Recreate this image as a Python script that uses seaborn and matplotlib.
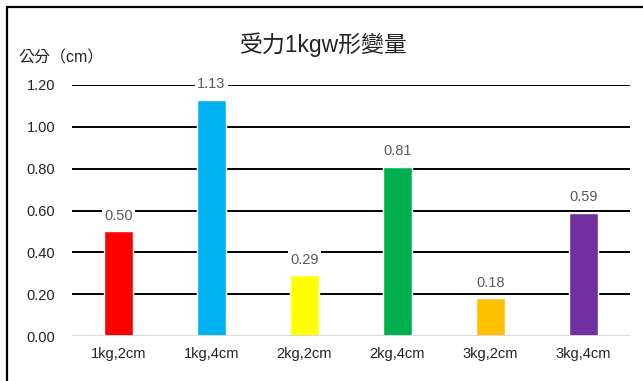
import matplotlib
matplotlib.use("Agg")
import matplotlib.pyplot as plt
import seaborn as sns
import pandas as pd
from matplotlib.patches import Rectangle

categories = ["1kg,2cm", "1kg,4cm", "2kg,2cm", "2kg,4cm", "3kg,2cm", "3kg,4cm"]
values = [0.50, 1.13, 0.29, 0.81, 0.18, 0.59]
colors = ["#FF0000", "#00B0F0", "#FFFF00", "#00B050", "#FFC000", "#7030A0"]
yticks = [0.0, 0.2, 0.4, 0.6, 0.8, 1.0, 1.2]

sns.set_style("white")
plt.rcParams["font.family"] = ["Liberation Sans", "Noto Sans CJK TC", "DejaVu Sans"]

df = pd.DataFrame({"cat": categories, "val": values})

fig = plt.figure(figsize=(6.43, 3.81), dpi=100)
ax = fig.add_axes([72 / 643, 1 - 336 / 381, 558 / 643, 251 / 381])

sns.barplot(data=df, x="cat", y="val", hue="cat", palette=colors,
            width=0.31, legend=False, ax=ax, zorder=3, saturation=1)

ax.set_ylim(0, 1.2)
ax.set_xlim(-0.5, 5.5)
ax.set_yticks(yticks)
ax.set_yticklabels([f"{t:.2f}" for t in yticks])
for t in yticks[1:]:
    ax.axhline(t, color="black", lw=1.4, zorder=1)
ax.axhline(0, color="#D9D9D9", lw=1.4, zorder=4)

for i, v in enumerate(values):
    ax.text(i, v + 0.04, f"{v:.2f}", ha="center", va="bottom",
            fontsize=10.5, color="#595959", zorder=5,
            bbox=dict(facecolor="white", edgecolor="none", pad=1.5))

for s in ax.spines.values():
    s.set_visible(False)
ax.tick_params(axis="both", length=0, labelsize=10.5, colors="#222222")
ax.tick_params(axis="y", pad=12)
ax.tick_params(axis="x", pad=8)
ax.set_xlabel("")
ax.set_ylabel("")

fig.text(324 / 643, 1 - 45 / 381, "受力1kgw形變量", ha="center", va="center",
         fontsize=16.5, color="#222222")
fig.text(18 / 643, 1 - 58 / 381, "公分（cm）", ha="left", va="center",
         fontsize=11.5, color="#222222")

fig.patches.append(Rectangle((7 / 643, -0.1), 1.2, 1.1 - 7 / 381,
                             transform=fig.transFigure, fill=False,
                             edgecolor="black", lw=1.6))

fig.savefig("out.png", dpi=100)
